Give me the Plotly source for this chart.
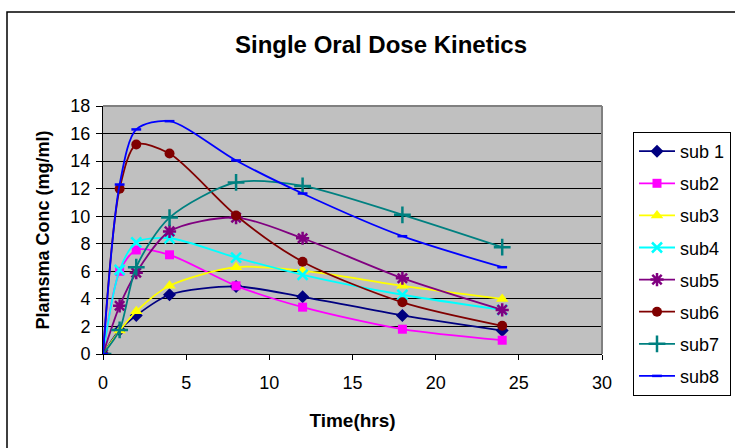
import plotly.graph_objects as go

time_hrs = [0, 1, 2, 4, 8, 12, 18, 24]
sub1 = [0, 1.75, 2.8, 4.3, 4.9, 4.15, 2.8, 1.7]
sub2 = [0, 6.0, 7.55, 7.2, 4.95, 3.4, 1.8, 1.0]
sub3 = [0, 1.7, 3.1, 4.95, 6.3, 6.05, 4.95, 4.0]
sub4 = [0, 6.1, 8.1, 8.4, 7.0, 5.75, 4.3, 3.2]
sub5 = [0, 3.5, 5.9, 8.9, 9.9, 8.4, 5.5, 3.2]
sub6 = [0, 12.0, 15.2, 14.55, 10.05, 6.7, 3.75, 2.05]
sub7 = [0, 1.75, 6.3, 9.9, 12.45, 12.2, 10.1, 7.75]
sub8 = [0, 12.3, 16.3, 16.9, 14.05, 11.65, 8.55, 6.3]

series_names = ["sub 1", "sub2", "sub3", "sub4", "sub5", "sub6", "sub7", "sub8"]
series_values = [sub1, sub2, sub3, sub4, sub5, sub6, sub7, sub8]
colors = ["#000080", "#FF00FF", "#FFFF00", "#00FFFF", "#800080", "#800000", "#008080", "#0000FF"]
symbols = ["diamond", "square", "triangle-up", "x-thin-open", "asterisk-open", "circle", "cross-thin-open", "line-ew-open"]
sizes = [10, 9, 11, 10, 11, 10, 12, 7]

fig = go.Figure()
for name, vals, col, sym, sz in zip(series_names, series_values, colors, symbols, sizes):
    open_sym = sym.endswith("open")
    fig.add_trace(go.Scatter(
        x=time_hrs, y=vals, name=name, mode="lines+markers",
        legendgroup=name,
        line=dict(color=col, width=1.8, shape="spline", smoothing=0.8),
        marker=dict(symbol=sym, size=sz, color=col,
                    line=dict(color=col, width=2.5 if open_sym else 0)),
    ))

W, H = 735, 448
# plot area in pixels
PL, PR, PT, PB = 103, 602, 106, 354
# margins (bottom margin smaller so the legend may extend below the axes)
ML, MR, MT, MB = PL, W - PR, PT, 40
GW, GH = W - ML - MR, H - MT - MB

def px(xp):
    return (xp - ML) / GW

def py(yp):
    return (H - MB - yp) / GH

fig.update_layout(
    width=W, height=H,
    margin=dict(l=ML, r=MR, t=MT, b=MB, autoexpand=False),
    paper_bgcolor="white",
    plot_bgcolor="#C0C0C0",
    font=dict(family="Liberation Sans, Arial, sans-serif", color="black"),
    title=dict(text="<b>Single Oral Dose Kinetics</b>", x=381 / W, xanchor="center",
               y=1 - 45 / H, yanchor="middle", font=dict(size=24)),
    showlegend=True,
    legend=dict(x=px(633), y=py(132), xanchor="left", yanchor="top",
                bordercolor="black", borderwidth=1, bgcolor="white",
                font=dict(size=18), tracegroupgap=5.7,
                itemwidth=36),
    xaxis=dict(range=[0, 30], dtick=5, tick0=0, showgrid=False, zeroline=False,
               showline=True, linecolor="black", linewidth=1,
               ticks="outside", ticklen=5, tickcolor="black",
               tickfont=dict(size=18), ticklabelstandoff=7,
               title=dict(text="<b>Time(hrs)</b>", font=dict(size=19), standoff=22)),
    yaxis=dict(range=[0, 18], dtick=2, tick0=0, showgrid=True, gridcolor="black", gridwidth=1,
               domain=[py(PB), 1],
               zeroline=False, showline=True, linecolor="black", linewidth=1,
               ticks="outside", ticklen=6, tickcolor="black",
               tickfont=dict(size=18), ticklabelstandoff=2,
               title=dict(text="<b>Plamsma Conc (mg/ml)</b>", font=dict(size=18), standoff=16)),
    shapes=[
        dict(type="line", xref="x domain", yref="y domain", x0=0, x1=1, y0=1, y1=1,
             line=dict(color="#808080", width=2)),
        dict(type="line", xref="x domain", yref="y domain", x0=1, x1=1, y0=0, y1=1,
             line=dict(color="#808080", width=2)),
        dict(type="rect", xref="paper", yref="paper", x0=px(7), x1=px(760), y0=py(470), y1=py(12),
             line=dict(color="black", width=1.5), layer="below"),
    ],
)

fig.write_html("out.html")
